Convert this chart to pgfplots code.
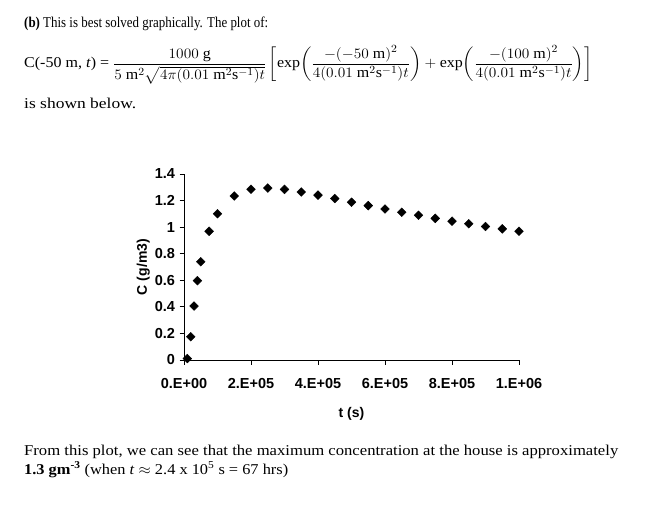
\documentclass[border=0pt]{standalone}
\usepackage{amsmath}
\usepackage{fontspec}
\usepackage{graphicx}
\usepackage{pgfplots}
\pgfplotsset{compat=1.18}
\setmainfont{Liberation Serif}
\newfontfamily\arial{Liberation Sans}
\newcommand{\sq}[2]{\resizebox{#1}{\height}{\fontsize{15}{18}\selectfont #2}}
\begin{document}
\begin{tikzpicture}[x=1pt,y=1pt]
\path (0,0) rectangle (653,507);
\begin{scope}[every node/.style={inner sep=0pt, anchor=base west}]
\node at (24,479) {\sq{244pt}{\textbf{(b)} This is best solved graphically. The plot of:}};
\node[anchor=west] at (24,442) {\sq{568pt}{C(-50 m, \textit{t}) = $\dfrac{1000\ \mathrm{g}}{5\ \mathrm{m}^2\sqrt{4\pi(0.01\ \mathrm{m}^2\mathrm{s}^{-1})t}}\left[\exp\!\left(\dfrac{-(-50\ \mathrm{m})^2}{4(0.01\ \mathrm{m}^2\mathrm{s}^{-1})t}\right)+\exp\!\left(\dfrac{-(100\ \mathrm{m})^2}{4(0.01\ \mathrm{m}^2\mathrm{s}^{-1})t}\right)\right]$}};
\node at (24,398) {\sq{112pt}{is shown below.}};
\node at (24,52) {\sq{594pt}{From this plot, we can see that the maximum concentration at the house is approximately}};
\node at (24,33) {\sq{264pt}{\textbf{1.3 gm}\textsuperscript{\textbf{-3}} (when \textit{t} $\approx$ 2.4 x 10\textsuperscript{5} s = 67 hrs)}};
\end{scope}
\begin{axis}[
  at={(184pt,147pt)}, anchor=south west,
  scale only axis, width=335pt, height=186pt,
  xmin=0, xmax=1000000, ymin=0, ymax=1.4,
  axis lines*=left,
  axis line style={black, line width=0.8pt},
  xtick={0,200000,400000,600000,800000,1000000},
  xticklabels={0.E+00,2.E+05,4.E+05,6.E+05,8.E+05,1.E+06},
  ytick={0,0.2,0.4,0.6,0.8,1,1.2,1.4},
  yticklabels={0,0.2,0.4,0.6,0.8,1,1.2,1.4},
  scaled x ticks=false,
  tick align=outside,
  major tick length=4.5pt,
  tick style={black, line width=0.8pt},
  tick label style={font=\arial\bfseries\fontsize{14.5}{16}\selectfont},
  xticklabel style={yshift=-10pt},
  yticklabel style={xshift=-1pt},
  xlabel={t (s)}, ylabel={C (g/m3)},
  label style={font=\arial\bfseries\fontsize{14}{16}\selectfont},
  xlabel style={yshift=-12pt},
  ylabel style={yshift=-2pt},
  clip=false,
]
\addplot[only marks, mark=square*, mark size=3.1pt, mark options={rotate=45, fill=black, draw=black}] coordinates {
(10000,0.011) (20000,0.175) (30000,0.406) (40000,0.597) (50000,0.740)
(75000,0.969) (100000,1.101) (150000,1.235) (200000,1.285) (250000,1.294)
(300000,1.284) (350000,1.265) (400000,1.241) (450000,1.215) (500000,1.188)
(550000,1.162) (600000,1.136) (650000,1.112) (700000,1.089) (750000,1.066)
(800000,1.045) (850000,1.025) (900000,1.005) (950000,0.987) (1000000,0.969)
};
\end{axis}
\end{tikzpicture}
\end{document}
